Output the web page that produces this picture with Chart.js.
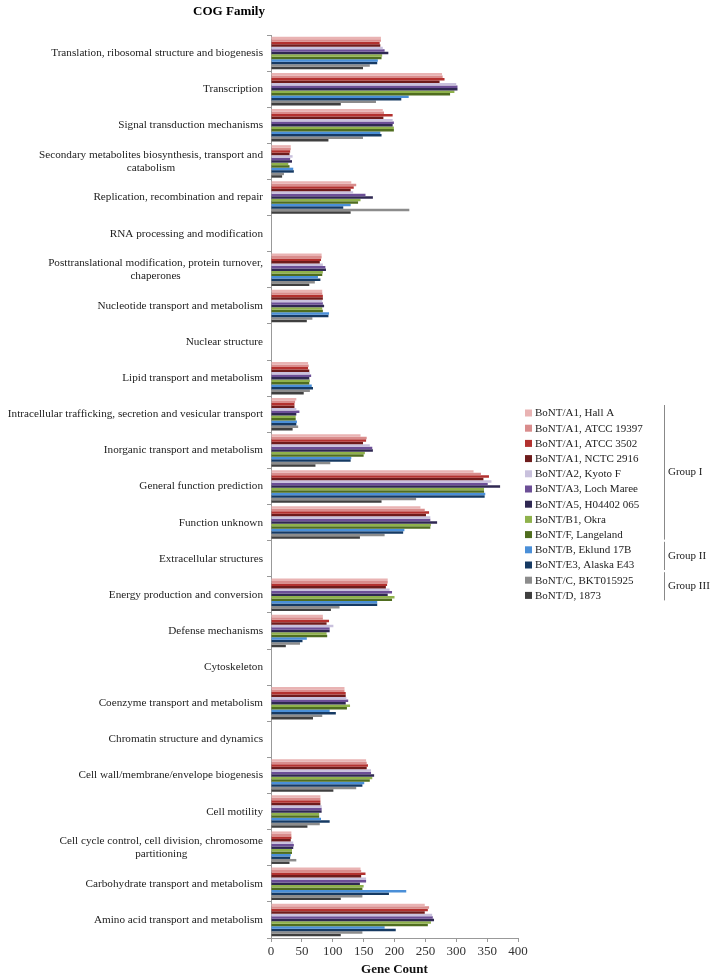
<!DOCTYPE html>
<html>
<head>
<meta charset="utf-8">
<script src="https://cdn.jsdelivr.net/npm/chart.js@4/dist/chart.umd.min.js"></script>
<style>
  html, body { margin: 0; padding: 0; background: #fff; }
  #wrap { width: 714px; height: 978px; }
</style>
</head>
<body>
<div id="wrap"><canvas id="cogChart" width="714" height="978"></canvas></div>
<script>
const categories = [
  'Translation, ribosomal structure and biogenesis',
  'Transcription',
  'Signal transduction mechanisms',
  ['Secondary metabolites biosynthesis, transport and', 'catabolism'],
  'Replication, recombination and repair',
  'RNA processing and modification',
  ['Posttranslational modification, protein turnover,', 'chaperones'],
  'Nucleotide transport and metabolism',
  'Nuclear structure',
  'Lipid transport and metabolism',
  'Intracellular trafficking, secretion and vesicular transport',
  'Inorganic transport and metabolism',
  'General function prediction',
  'Function unknown',
  'Extracellular structures',
  'Energy production and conversion',
  'Defense mechanisms',
  'Cytoskeleton',
  'Coenzyme transport and metabolism',
  'Chromatin structure and dynamics',
  'Cell wall/membrane/envelope biogenesis',
  'Cell motility',
  ['Cell cycle control, cell division, chromosome', 'partitioning'],
  'Carbohydrate transport and metabolism',
  'Amino acid transport and metabolism'
];

const strains = [
  'BoNT/A1, Hall A', 'BoNT/A1, ATCC 19397', 'BoNT/A1, ATCC 3502', 'BoNT/A1, NCTC 2916',
  'BoNT/A2, Kyoto F', 'BoNT/A3, Loch Maree', 'BoNT/A5, H04402 065', 'BoNT/B1, Okra',
  'BoNT/F, Langeland', 'BoNT/B, Eklund 17B', 'BoNT/E3, Alaska E43', 'BoNT/C, BKT015925',
  'BoNT/D, 1873'
];

const colors = [
  '#e9b3b3', '#d98c8c', '#b3312f', '#6e1c1c',
  '#c9c1dd', '#6c4f96', '#2f2852', '#8fb24c',
  '#4f6d1f', '#4a8fd8', '#163a63', '#8c8c8c',
  '#3f3f3f'
];

// one array per strain, values in category order
const hallA      = [178, 277, 181, 32, 130, 0, 82, 83, 0, 60, 41, 145, 328, 242, 0, 189, 84, 0, 119, 0, 154, 80, 33, 145, 249];
const atcc19397  = [178, 278, 183, 32, 138, 0, 82, 83, 0, 61, 39, 155, 340, 249, 0, 189, 84, 0, 119, 0, 155, 80, 33, 146, 256];
const atcc3502   = [176, 281, 197, 31, 134, 0, 81, 84, 0, 60, 38, 154, 353, 256, 0, 188, 94, 0, 121, 0, 157, 80, 33, 153, 254];
const nctc2916   = [177, 273, 182, 30, 129, 0, 79, 84, 0, 62, 38, 149, 344, 251, 0, 186, 90, 0, 121, 0, 155, 80, 32, 146, 249];
const kyotoF     = [181, 300, 197, 35, 133, 0, 84, 83, 0, 63, 41, 160, 357, 258, 0, 192, 101, 0, 122, 0, 162, 82, 36, 154, 261];
const lochMaree  = [184, 302, 199, 31, 153, 0, 88, 84, 0, 65, 46, 164, 351, 258, 0, 196, 95, 0, 125, 0, 162, 82, 37, 154, 262];
const h04402     = [190, 302, 197, 34, 165, 0, 89, 86, 0, 62, 41, 165, 371, 269, 0, 189, 95, 0, 121, 0, 167, 82, 36, 144, 264];
const okra       = [180, 297, 199, 28, 145, 0, 84, 83, 0, 63, 40, 152, 345, 259, 0, 200, 90, 0, 128, 0, 164, 78, 34, 150, 259];
const langeland  = [179, 290, 199, 30, 141, 0, 83, 84, 0, 62, 40, 150, 345, 258, 0, 196, 91, 0, 123, 0, 160, 78, 34, 148, 254];
const eklund17B  = [173, 223, 177, 36, 129, 0, 76, 94, 0, 66, 42, 130, 347, 216, 0, 172, 58, 0, 95, 0, 151, 81, 32, 219, 184];
const alaskaE43  = [172, 211, 179, 37, 117, 0, 80, 93, 0, 68, 41, 129, 346, 214, 0, 172, 51, 0, 105, 0, 148, 95, 31, 191, 202];
const bkt015925  = [160, 170, 149, 21, 224, 0, 71, 67, 0, 63, 44, 96, 235, 184, 0, 111, 47, 0, 83, 0, 138, 79, 41, 148, 148];
const d1873      = [149, 113, 93, 18, 129, 0, 62, 58, 0, 53, 35, 72, 179, 144, 0, 97, 24, 0, 68, 0, 101, 59, 30, 113, 113];

const seriesValues = [hallA, atcc19397, atcc3502, nctc2916, kyotoF, lochMaree, h04402,
  okra, langeland, eklund17B, alaskaE43, bkt015925, d1873];

const xTicks = [0, 50, 100, 150, 200, 250, 300, 350, 400];

const groups = [
  { name: 'Group I', first: 0, last: 8 },
  { name: 'Group II', first: 9, last: 10 },
  { name: 'Group III', first: 11, last: 12 }
];

const serif = "'Liberation Serif', 'DejaVu Serif', serif";

// category labels: block right-aligned to the axis, wrapped lines centred (Excel style)
const catLabelPlugin = {
  id: 'catLabels',
  afterDraw(chart) {
    const c = chart.ctx;
    const yScale = chart.scales.y;
    const right = yScale.right - 8;
    c.save();
    c.font = '11.2px ' + serif;
    c.fillStyle = '#222';
    c.textAlign = 'center';
    c.textBaseline = 'middle';
    categories.forEach((lab, i) => {
      const lines = Array.isArray(lab) ? lab : [lab];
      const w = Math.max(...lines.map(t => c.measureText(t).width));
      const cx = right - w / 2;
      const y0 = yScale.getPixelForTick(i) - (lines.length - 1) * 6.5;
      lines.forEach((t, k) => c.fillText(t, cx, y0 + k * 13));
    });
    c.restore();
  }
};

// title, legend and group brackets drawn next to the plot
const sidePlugin = {
  id: 'sideLegend',
  afterDraw(chart) {
    const c = chart.ctx;
    c.save();
    c.fillStyle = '#000';
    c.font = 'bold 13px ' + serif;
    c.textAlign = 'center';
    c.textBaseline = 'middle';
    c.fillText('COG Family', 229, 12);

    const lx = 525, ly = 413, step = 15.2;
    c.font = '11px ' + serif;
    c.textAlign = 'left';
    chart.data.datasets.forEach((ds, i) => {
      const y = ly + i * step;
      c.fillStyle = ds.backgroundColor;
      c.fillRect(lx, y - 3.5, 7, 7);
      c.fillStyle = '#222';
      c.fillText(ds.label, lx + 10, y + 0.5);
    });

    c.strokeStyle = '#888';
    c.lineWidth = 1;
    groups.forEach(g => {
      const y0 = ly + g.first * step - 8;
      const y1 = ly + g.last * step + 5;
      c.beginPath();
      c.moveTo(664.5, y0);
      c.lineTo(664.5, y1);
      c.stroke();
      c.fillStyle = '#222';
      c.fillText(g.name, 668, (y0 + y1) / 2);
    });
    c.restore();
  }
};

new Chart(document.getElementById('cogChart'), {
  type: 'bar',
  data: {
    labels: categories,
    datasets: strains.map((name, i) => ({
      label: name,
      data: seriesValues[i],
      backgroundColor: colors[i],
      borderWidth: 0,
      categoryPercentage: 0.9,
      barPercentage: 1.0
    }))
  },
  options: {
    indexAxis: 'y',
    responsive: false,
    animation: false,
    layout: { padding: { top: 35, right: 196, bottom: 0, left: 0 } },
    plugins: {
      legend: { display: false },
      tooltip: { enabled: false }
    },
    scales: {
      x: {
        min: 0,
        max: 400,
        afterBuildTicks: scale => { scale.ticks = xTicks.map(v => ({ value: v })); },
        afterFit: scale => { scale.height = 40; },
        grid: { drawOnChartArea: false, tickLength: 4, color: '#999' },
        border: { color: '#999' },
        ticks: { color: '#333', padding: 2, font: { family: serif, size: 13 } },
        title: {
          display: true,
          text: 'Gene Count',
          color: '#111',
          padding: { top: 0, bottom: 1 },
          font: { family: serif, size: 13, weight: 'bold' }
        }
      },
      y: {
        afterFit: scale => { scale.width = 271; },
        grid: { drawOnChartArea: false, tickLength: 4, color: '#999', offset: true },
        border: { color: '#999' },
        ticks: { display: false, autoSkip: false }
      }
    }
  },
  plugins: [catLabelPlugin, sidePlugin]
});
</script>
</body>
</html>
